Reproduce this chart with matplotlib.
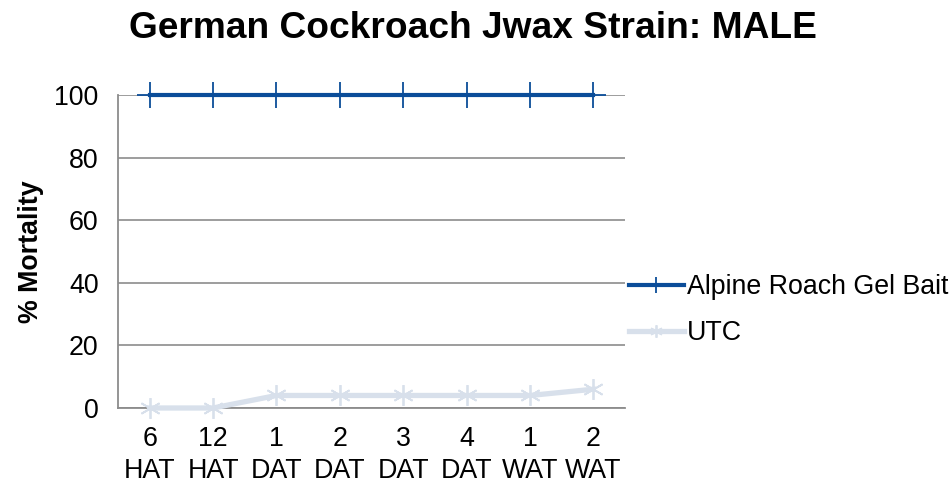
import matplotlib
matplotlib.use("Agg")
import matplotlib.pyplot as plt
import numpy as np

title = "German Cockroach Jwax Strain: MALE"
categories = ["6\nHAT", "12\nHAT", "1\nDAT", "2\nDAT", "3\nDAT", "4\nDAT", "1\nWAT", "2\nWAT"]
series_names = ["Alpine Roach Gel Bait", "UTC"]
alpine = [100, 100, 100, 100, 100, 100, 100, 100]
utc = [0, 0, 4, 4, 4, 4, 4, 6]
yticks = [0, 20, 40, 60, 80, 100]
ylabel = "% Mortality"

plt.rcParams['font.family'] = ['Liberation Sans', 'DejaVu Sans']
FS = 19.3

fig = plt.figure(figsize=(9.53, 4.83), dpi=100)
ax = fig.add_axes([118/953, 1-408/483, (625-118)/953, (408-95)/483])

x = np.arange(len(categories))
blue = '#0B4D99'
light = '#D8E0EB'
ax.plot(x, utc, color=light, lw=3.8, marker=(6, 2, 0), markersize=15,
        markeredgewidth=1.3, markeredgecolor=light, clip_on=False, zorder=3,
        label=series_names[1])
ax.plot(x, alpine, color=blue, lw=3.0, marker='+', markersize=19,
        markeredgewidth=1.3, markeredgecolor=blue, clip_on=False, zorder=4,
        label=series_names[0])

ax.set_xlim(-0.5, len(categories) - 0.5)
ax.set_ylim(0, 100)
ax.set_yticks(yticks)
ax.set_xticks(x)
ax.set_xticklabels(categories, fontsize=FS, linespacing=1.3)
ax.tick_params(axis='y', labelsize=FS, length=0, pad=14)
ax.tick_params(axis='x', length=0, pad=13)
ax.yaxis.grid(True, color='#8C8C8C', lw=1.2)
ax.set_axisbelow(True)
for s in ['top', 'right']:
    ax.spines[s].set_visible(False)
for s in ['left', 'bottom']:
    ax.spines[s].set_color('#8C8C8C')
    ax.spines[s].set_linewidth(1.3)

ax.set_ylabel(ylabel, fontsize=FS, fontweight='bold', va='center')
ax.yaxis.set_label_coords((31-118)/507, 0.5)
fig.text(473/953, 1-29/483, title, fontsize=26.7, fontweight='bold',
         ha='center', va='center')

handles, labels = ax.get_legend_handles_labels()
fig.legend(handles[::-1], labels[::-1], loc='center left',
           bbox_to_anchor=(629/953, 1-310/483), frameon=False,
           fontsize=FS, handlelength=2.05, handletextpad=0.1,
           labelspacing=0.75, borderpad=0, borderaxespad=0, numpoints=1,
           markerscale=0.6)

fig.savefig("out.png", dpi=100)
